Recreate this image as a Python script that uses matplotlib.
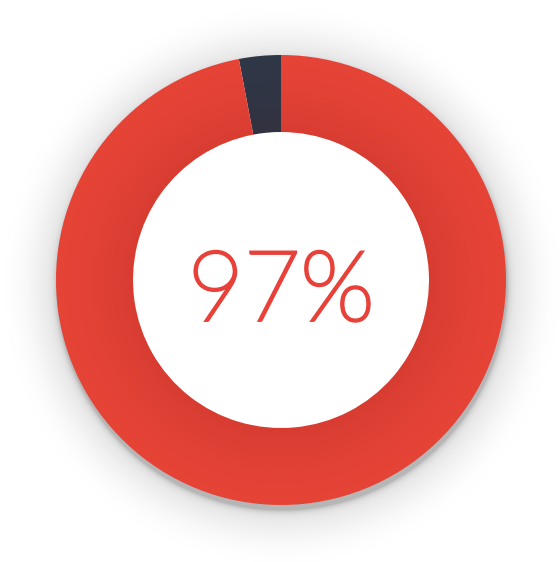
import matplotlib.pyplot as plt
from matplotlib.patches import Wedge
import matplotlib.patheffects as pe
import numpy as np

# Chart data
labels = ["Rest", "Done"]
values = [3, 97]
colors = ["#2f3747", "#e64337"]
center_label = "97%"

W, H = 560, 562
cx, cy = 281, 562 - 280
r_out, r_in = 225, 148

fig = plt.figure(figsize=(W / 100, H / 100), dpi=100)
ax = fig.add_axes([0, 0, 1, 1])

# Soft drop shadow behind the ring (only outside the ring)
yy, xx = np.mgrid[H:0:-1, 0:W] + 0.5
d = np.hypot(xx - cx - 1, yy - (cy - 4)) - r_out
d = np.clip(d, 0, None)
shade = 0.20 * np.exp(-d / 3.0) + 0.09 * np.exp(-(d / 30.0) ** 2)
rr = np.hypot(xx - cx, yy - cy)
shade[rr < r_out - 2] = 0
shadow = np.zeros((H, W, 4))
shadow[..., 3] = shade
ax.imshow(shadow, extent=[0, W, 0, H], zorder=0, interpolation="bilinear")

# Donut
wedges, _ = ax.pie(values, colors=colors, startangle=90, counterclock=True,
                   radius=r_out, center=(cx, cy), frame=True,
                   wedgeprops=dict(width=r_out - r_in, linewidth=0))
for w in wedges:
    w.set_zorder(1)

# Slight darkening towards the inner edge of the ring
t = np.clip((rr - r_in) / (r_out - r_in), 0, 1)
tone = np.zeros((H, W, 4))
tone[..., 0] = 0.35
tone[..., 3] = 0.10 * (1 - t) ** 1.5
im = ax.imshow(tone, extent=[0, W, 0, H], zorder=2, interpolation="bilinear")
clip = Wedge((cx, cy), r_out, 0, 360, width=r_out - r_in, transform=ax.transData)
im.set_clip_path(clip)

txt_color = "#e8413a"
ax.text(cx, cy - 14, center_label, ha="center", va="center", fontsize=70,
        color=txt_color, family=["Lato", "DejaVu Sans"], fontweight="light",
        zorder=3,
        path_effects=[pe.withStroke(linewidth=2.4, foreground=txt_color,
                                    capstyle="butt", joinstyle="miter")])

ax.set_xlim(0, W)
ax.set_ylim(0, H)
ax.set_aspect("equal")
ax.axis("off")

fig.savefig("out.png", dpi=100, facecolor="white")
